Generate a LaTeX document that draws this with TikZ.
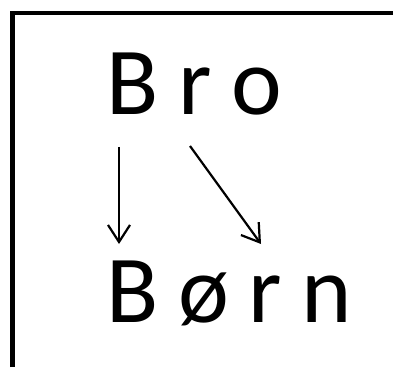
\documentclass[tikz,border=0pt]{standalone}
\usepackage{fontspec}
\setmainfont{Carlito}
\newfontfamily\wordfont[WordSpace=0.91]{Carlito}
\usetikzlibrary{arrows.meta}
\begin{document}
\begin{tikzpicture}[x=1pt,y=1pt,
  word/.style={inner sep=0pt, anchor=base west,
    font=\wordfont\fontsize{96}{96}\selectfont},
  frameline/.style={line width=4.5pt, line cap=butt, line join=miter},
  link/.style={line width=2.2pt, -{Straight Barb[length=17pt,width=22pt,line width=2.2pt]}}]
  \useasboundingbox (0,0) rectangle (393,367);
  % open frame: left and top sides only
  \draw[frameline] (12.5,0) -- (12.5,354) -- (393,354);
  % the two words
  \node[word] (bro)  at (106,252) {B r o};
  \node[word] (born) at (106,45)  {B ø r n};
  % arrow end points
  \coordinate (a1s) at (119,220);
  \coordinate (a1e) at (119,123);
  \coordinate (a2s) at (190,221);
  \coordinate (a2e) at (261,123);
  \draw[link] (a1s) -- (a1e);
  \draw[link] (a2s) -- (a2e);
\end{tikzpicture}
\end{document}
